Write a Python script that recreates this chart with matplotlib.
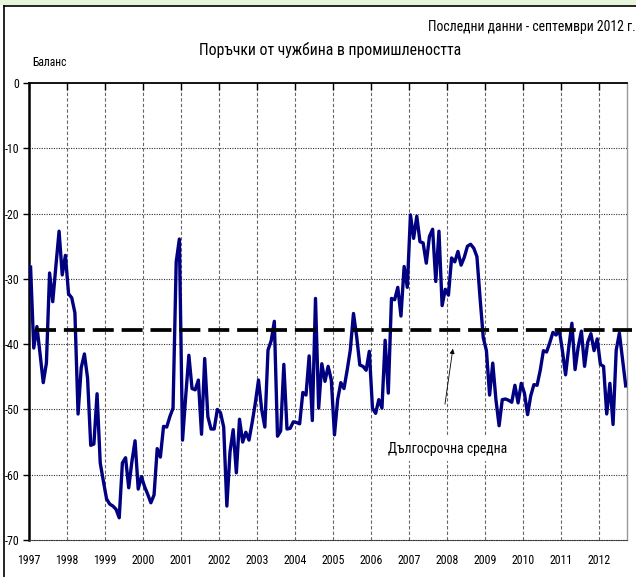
import matplotlib
matplotlib.use("Agg")
import matplotlib.pyplot as plt
from matplotlib import font_manager as fm
from matplotlib.patches import Rectangle
import numpy as np

# ---------------- data ----------------
years = [str(y) for y in range(1997, 2013)]
balance_1997 = [-28.2, -40.6, -37.3, -41.5, -45.9, -42.9, -29.1, -33.5, -28.0, -22.7, -29.4, -26.4]
balance_1998 = [-32.3, -32.9, -35.2, -50.7, -43.6, -41.5, -45.2, -55.5, -55.3, -47.6, -58.2, -61.0]
balance_1999 = [-63.7, -64.5, -64.8, -65.3, -66.6, -58.2, -57.4, -62.0, -58.0, -54.8, -62.2, -60.3]
balance_2000 = [-61.8, -63.0, -64.3, -63.1, -56.0, -57.3, -52.6, -52.7, -51.1, -49.8, -27.4, -23.9]
balance_2001 = [-54.7, -48.0, -41.7, -46.8, -47.0, -45.5, -53.8, -42.2, -51.1, -53.0, -53.0, -50.0]
balance_2002 = [-50.5, -52.7, -64.8, -56.5, -53.1, -59.7, -51.5, -55.0, -53.5, -54.7, -52.0, -49.0]
balance_2003 = [-45.5, -50.0, -52.7, -40.9, -39.5, -36.5, -54.1, -53.3, -43.1, -53.0, -52.9, -51.9]
balance_2004 = [-52.0, -52.2, -47.4, -47.8, -41.8, -51.7, -33.0, -49.8, -43.0, -45.7, -43.4, -45.5]
balance_2005 = [-53.9, -48.5, -45.9, -46.8, -44.0, -40.9, -35.3, -38.8, -43.2, -43.4, -44.0, -41.1]
balance_2006 = [-49.8, -50.6, -48.5, -49.8, -39.4, -47.5, -33.0, -33.2, -31.3, -35.7, -28.1, -31.3]
balance_2007 = [-20.2, -23.8, -20.4, -24.3, -24.5, -27.6, -23.5, -22.4, -30.4, -22.7, -34.1, -31.6]
balance_2008 = [-32.5, -26.8, -27.4, -25.8, -27.9, -26.7, -25.0, -24.7, -25.3, -26.6, -33.0, -39.0]
balance_2009 = [-41.0, -47.8, -42.9, -48.5, -52.5, -48.5, -48.4, -48.6, -48.9, -46.3, -49.0, -46.0]
balance_2010 = [-47.5, -50.8, -47.9, -46.2, -46.3, -44.0, -41.0, -41.2, -39.8, -38.2, -38.6, -37.8]
balance_2011 = [-41.0, -44.7, -40.5, -36.8, -43.9, -40.4, -38.0, -43.4, -39.7, -38.4, -41.0, -39.2]
balance_2012 = [-43.1, -43.4, -50.7, -46.0, -52.3, -40.9, -38.3, -42.4, -46.4]
long_term_mean = -37.9
y_ticks = [0, -10, -20, -30, -40, -50, -60, -70]
y_tick_labels = ["0", "-10", "-20", "-30", "-40", "-50", "-60", "-70"]

balance = np.array(balance_1997 + balance_1998 + balance_1999 + balance_2000 +
                   balance_2001 + balance_2002 + balance_2003 + balance_2004 +
                   balance_2005 + balance_2006 + balance_2007 + balance_2008 +
                   balance_2009 + balance_2010 + balance_2011 + balance_2012)
n = len(balance)
xpos = np.arange(n) + 0.5   # category centres (Excel-style)

# ---------------- fonts ----------------
def pick(names):
    for nm in names:
        try:
            fm.findfont(fm.FontProperties(family=nm), fallback_to_default=False)
            return nm
        except Exception:
            pass
    return "DejaVu Sans"

FONT = pick(["Liberation Sans Narrow", "Roboto Condensed", "Open Sans Condensed",
             "Liberation Sans", "DejaVu Sans"])
plt.rcParams["font.family"] = [FONT, "DejaVu Sans"]

# ---------------- figure ----------------
W, H = 636, 577
fig = plt.figure(figsize=(W / 100, H / 100), dpi=100)
fig.patch.set_facecolor("white")

fig.add_artist(Rectangle((0, 1 - 5 / H), 1, 5 / H, transform=fig.transFigure,
                         facecolor="#e6f5dc", edgecolor="none"))
fig.add_artist(plt.Line2D([4 / W, 1], [1 - 6 / H, 1 - 6 / H], transform=fig.transFigure,
                          color="black", lw=1.2))
fig.add_artist(plt.Line2D([4 / W, 4 / W], [0, 1 - 6 / H], transform=fig.transFigure,
                          color="black", lw=1.2))

left, right = 29 / W, 627.3 / W
bottom, top = 1 - 540 / H, 1 - 83 / H
ax = fig.add_axes([left, bottom, right - left, top - bottom])
ax.set_xlim(0, n)
ax.set_ylim(-70, 0)

for k in range(1, len(years)):
    ax.axvline(12 * k, color="#666666", lw=0.8, ls=(0, (3, 2)), zorder=1)
for v in y_ticks[1:-1]:
    ax.axhline(v, color="#333333", lw=0.8, ls=(0, (1, 1.2)), zorder=1)

ax.plot(xpos, balance, color="#000080", lw=2.4, solid_joinstyle="round", zorder=3)
ax.plot([2.0, n + 1.5], [long_term_mean, long_term_mean], color="black", lw=2.7,
        dashes=(5.6, 2.1), zorder=4, clip_on=False)

ax.spines["left"].set_linewidth(1.8)
ax.spines["left"].set_color("black")
ax.spines["top"].set_linewidth(1.3)
ax.spines["top"].set_color("black")
ax.spines["right"].set_color("#999999")
ax.spines["right"].set_linewidth(1.0)
ax.spines["bottom"].set_color("#333333")
ax.spines["bottom"].set_linewidth(0.8)
ax.spines["bottom"].set_linestyle((0, (1, 1.2)))

ax.set_xticks([12 * k for k in range(len(years))])
ax.set_xticklabels(years, fontsize=8.6)
ax.tick_params(axis="x", top=True, bottom=False, direction="in", length=5, width=1,
               labelbottom=True, pad=10)
ax.set_yticks(y_ticks)
ax.set_yticklabels(y_tick_labels, fontsize=8.6)
ax.tick_params(axis="y", direction="out", length=4, width=1, pad=3)

fig.text(1.0, 1 - 27 / H, "Последни данни - септември 2012 г.", ha="right", va="center",
         fontsize=9.9)
fig.text(330 / W, 1 - 50 / H, "Поръчки от чужбина в промишлеността", ha="center",
         va="center", fontsize=11.3)
fig.text(32 / W, 1 - 62 / H, "Баланс", ha="left", va="center", fontsize=8.3)

ax.text(132.3, -56.0, "Дългосрочна средна", ha="center", va="center", fontsize=9.9,
        zorder=5, bbox=dict(facecolor="white", edgecolor="none", pad=4))
ax.annotate("", xy=(133.9, -40.7), xytext=(131.4, -49.2),
            arrowprops=dict(arrowstyle="-|>", color="black", lw=0.6,
                            mutation_scale=7, shrinkA=0, shrinkB=0), zorder=5)

fig.savefig("out.png", dpi=100)
